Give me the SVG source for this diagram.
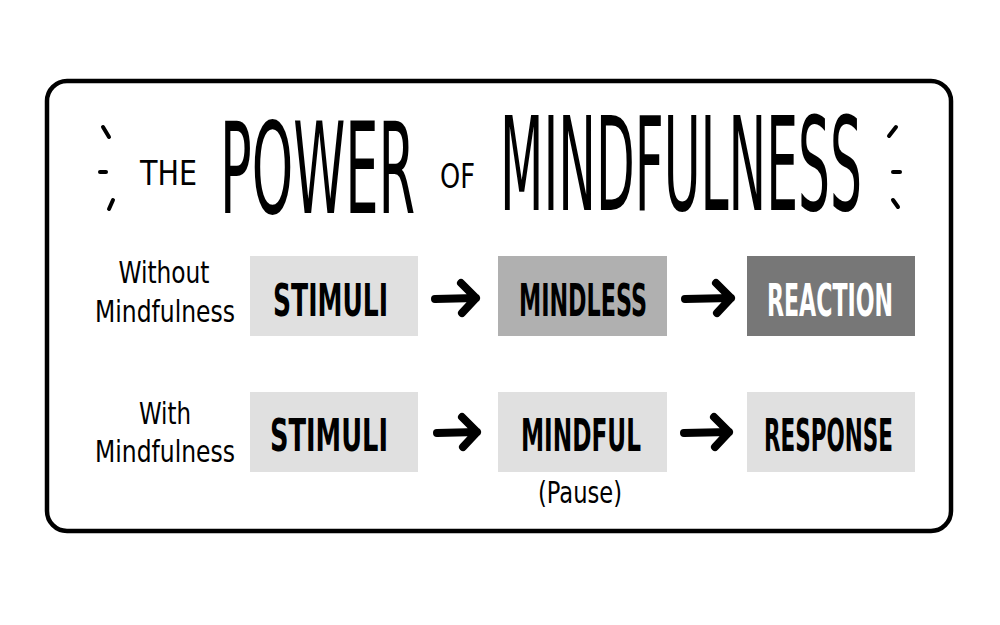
<svg xmlns="http://www.w3.org/2000/svg" width="1000" height="625" viewBox="0 0 1000 625">
<style>
.hand{font-family:"DejaVu Sans Condensed","DejaVu Sans",sans-serif;fill:#000}
.box{stroke:none}
.lbl{font-family:"DejaVu Sans Condensed","DejaVu Sans",sans-serif;font-weight:bold;font-size:44px}
.side{font-family:"DejaVu Sans Condensed","DejaVu Sans",sans-serif;font-size:30px;text-anchor:middle;fill:#000}
.arrow{fill:none;stroke:#000;stroke-width:8;stroke-linecap:round;stroke-linejoin:round}
.dash{stroke:#000;stroke-width:4;stroke-linecap:round}
</style>
<rect x="0" y="0" width="1000" height="625" fill="#fff"/>
<rect id="frame" x="47" y="81" width="904" height="450" rx="20" fill="#fff" stroke="#000" stroke-width="4.5"/>
<g id="title">
<line class="dash" x1="103" y1="127" x2="109" y2="137"/>
<line class="dash" x1="100" y1="172" x2="106" y2="172"/>
<line class="dash" x1="113" y1="200" x2="109" y2="209"/>
<line class="dash" x1="896" y1="127" x2="889" y2="136"/>
<line class="dash" x1="893" y1="172" x2="900" y2="172"/>
<line class="dash" x1="893" y1="200" x2="898" y2="207"/>
<text class="hand" transform="translate(140,185) scale(1,1.5)" font-size="22" textLength="57" lengthAdjust="spacingAndGlyphs">THE</text>
<text class="hand" transform="translate(220,213) scale(1,2.6)" font-size="49" textLength="195" lengthAdjust="spacingAndGlyphs">POWER</text>
<text class="hand" transform="translate(440,188) scale(1,1.5)" font-size="22" textLength="35" lengthAdjust="spacingAndGlyphs">OF</text>
<text class="hand" transform="translate(500,210) scale(1,2.6)" font-size="50" textLength="362" lengthAdjust="spacingAndGlyphs">MINDFULNESS</text>
</g>
<g id="label-without">
<text class="side" x="164" y="283" textLength="91" lengthAdjust="spacingAndGlyphs">Without</text>
<text class="side" x="165" y="322" textLength="140" lengthAdjust="spacingAndGlyphs">Mindfulness</text>
</g>
<g id="label-with">
<text class="side" x="165" y="424" textLength="52" lengthAdjust="spacingAndGlyphs">With</text>
<text class="side" x="165" y="462" textLength="140" lengthAdjust="spacingAndGlyphs">Mindfulness</text>
</g>
<g id="stimuli1">
<rect class="box" x="250" y="256" width="168" height="80" fill="#e0e0e0"/>
<text class="lbl" x="273" y="316" textLength="115" lengthAdjust="spacingAndGlyphs" fill="#000">STIMULI</text>
</g>
<g id="mindless">
<rect class="box" x="498" y="256" width="169" height="80" fill="#b0b0b0"/>
<text class="lbl" x="519" y="316" textLength="128" lengthAdjust="spacingAndGlyphs" fill="#000">MINDLESS</text>
</g>
<g id="reaction">
<rect class="box" x="747" y="256" width="168" height="80" fill="#777777"/>
<text class="lbl" x="767" y="316" textLength="126" lengthAdjust="spacingAndGlyphs" fill="#fff">REACTION</text>
</g>
<g id="stimuli2">
<rect class="box" x="250" y="392" width="168" height="80" fill="#e0e0e0"/>
<text class="lbl" x="270" y="451" textLength="118" lengthAdjust="spacingAndGlyphs" fill="#000">STIMULI</text>
</g>
<g id="mindful">
<rect class="box" x="498" y="392" width="169" height="80" fill="#e0e0e0"/>
<text class="lbl" x="521" y="451" textLength="120" lengthAdjust="spacingAndGlyphs" fill="#000">MINDFUL</text>
<text class="side" x="580" y="503" font-size="26" textLength="84" lengthAdjust="spacingAndGlyphs">(Pause)</text>
</g>
<g id="response">
<rect class="box" x="747" y="392" width="168" height="80" fill="#e0e0e0"/>
<text class="lbl" x="764" y="451" textLength="129" lengthAdjust="spacingAndGlyphs" fill="#000">RESPONSE</text>
</g>
<g id="connectors">
<path class="arrow" d="M435 299 L476 298 M461 283 L476 298 L462 313"/>
<path class="arrow" d="M685 299 L731 298 M716 283 L731 298 L717 313"/>
<path class="arrow" d="M437 433 L477 432 M462 417 L477 432 L463 447"/>
<path class="arrow" d="M684 433 L729 432 M714 417 L729 432 L715 447"/>
</g>
</svg>
